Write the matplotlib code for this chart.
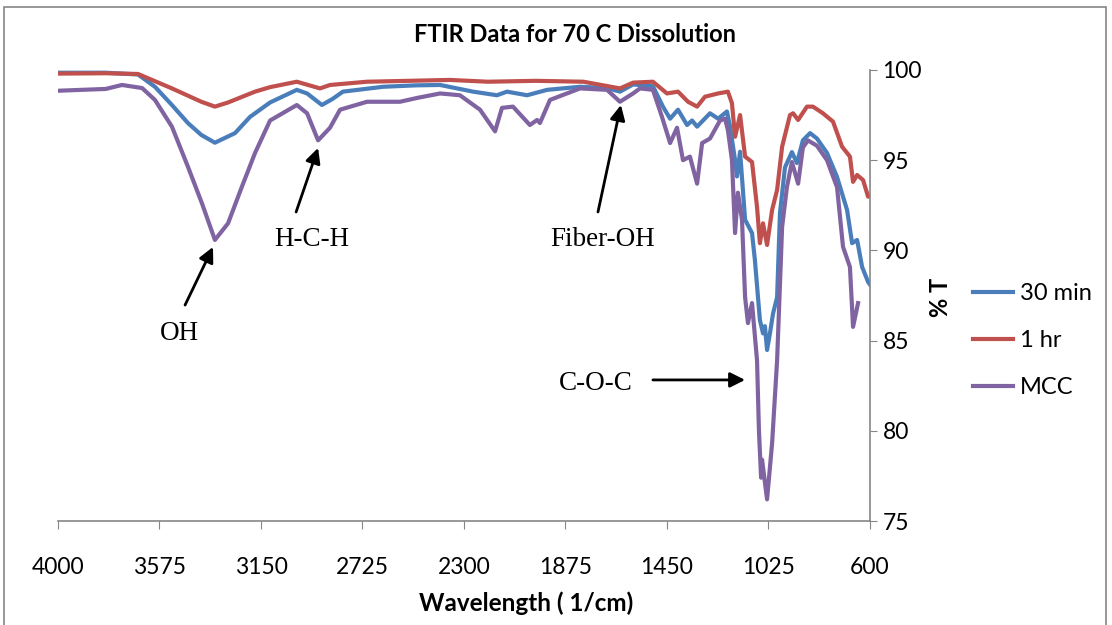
import matplotlib
matplotlib.use("Agg")
import matplotlib.pyplot as plt
from matplotlib.patches import Rectangle

# FTIR spectra (wavenumber 1/cm, %T)
wn_30min = [4000, 3800, 3665, 3594, 3523, 3456, 3400, 3343, 3259, 3196, 3112, 3000,
            2957, 2895, 2850, 2807, 2639, 2500, 2400, 2262, 2162, 2120, 2036, 1952,
            1814, 1701, 1647, 1592, 1509, 1467, 1437, 1404, 1366, 1345, 1324, 1270,
            1236, 1199, 1186, 1165, 1157, 1144, 1123, 1094, 1082, 1061, 1048, 1040,
            1031, 1019, 1006, 989, 977, 956, 927, 906, 881, 851, 822, 780, 738, 696,
            675, 654, 633, 608, 600]
t_30min = [99.85, 99.85, 99.75, 99.07, 98.06, 97.06, 96.4, 95.97, 96.5, 97.4, 98.2, 98.9,
           98.7, 98.06, 98.4, 98.8, 99.07, 99.15, 99.17, 98.8, 98.6, 98.8, 98.6, 98.9,
           99.07, 99.0, 98.8, 99.2, 99.1, 97.97, 97.3, 97.8, 96.95, 97.2, 96.86, 97.6,
           97.3, 97.7, 96.86, 95.0, 94.1, 95.47, 91.7, 90.96, 89.47, 86.14, 85.4, 85.8,
           84.48, 85.4, 86.5, 87.4, 92.07, 94.6, 95.45, 94.84, 96.1, 96.5, 96.2, 95.4,
           94.07, 92.24, 90.4, 90.58, 89.08, 88.25, 88.1]

wn_1hr = [4000, 3800, 3665, 3523, 3400, 3343, 3288, 3175, 3112, 3000, 2903, 2861,
          2706, 2359, 2200, 2000, 1800, 1647, 1592, 1509, 1450, 1404, 1362, 1324,
          1291, 1236, 1195, 1178, 1165, 1144, 1123, 1094, 1073, 1061, 1048, 1031,
          1010, 989, 968, 935, 922, 901, 864, 839, 797, 755, 717, 684, 671, 654,
          629, 608, 600]
t_1hr = [99.8, 99.82, 99.78, 98.98, 98.24, 97.97, 98.2, 98.8, 99.05, 99.35, 98.98, 99.17,
         99.35, 99.45, 99.35, 99.4, 99.35, 98.98, 99.3, 99.35, 98.7, 98.8, 98.24, 97.97,
         98.52, 98.7, 98.8, 98.16, 96.3, 97.5, 95.2, 94.9, 92.4, 90.4, 91.5, 90.3,
         92.24, 93.35, 95.75, 97.5, 97.6, 97.23, 97.97, 97.97, 97.6, 97.14, 95.75, 95.2,
         93.8, 94.18, 93.9, 92.98, 93.0]

wn_mcc = [4000, 3800, 3732, 3648, 3594, 3523, 3456, 3397, 3343, 3288, 3230, 3175,
          3112, 3000, 2957, 2911, 2861, 2819, 2706, 2568, 2497, 2400, 2317, 2233,
          2170, 2141, 2095, 2024, 1994, 1982, 1940, 1814, 1701, 1647, 1592, 1563,
          1509, 1471, 1437, 1408, 1383, 1354, 1324, 1303, 1270, 1228, 1207, 1195,
          1178, 1165, 1153, 1136, 1123, 1111, 1094, 1073, 1065, 1056, 1052, 1031,
          1010, 989, 968, 948, 927, 901, 881, 860, 822, 780, 738, 713, 684, 671, 650]
t_mcc = [98.85, 98.95, 99.17, 99.0, 98.34, 96.86, 94.64, 92.6, 90.58, 91.5, 93.53, 95.4,
         97.2, 98.06, 97.6, 96.1, 96.8, 97.8, 98.24, 98.24, 98.45, 98.7, 98.6, 97.8,
         96.6, 97.9, 97.97, 96.95, 97.23, 97.06, 98.34, 98.98, 98.9, 98.24, 98.7, 98.98,
         98.9, 97.4, 95.95, 96.8, 95.0, 95.2, 93.7, 95.95, 96.2, 97.2, 97.3, 96.67,
         95.0, 90.96, 93.2, 91.7, 87.4, 85.97, 87.08, 83.9, 80.0, 77.4, 78.4, 76.2,
         79.3, 83.9, 91.3, 93.5, 94.9, 93.7, 95.7, 96.1, 95.8, 95.0, 93.5, 90.2, 89.08,
         85.76, 87.08]

series = [("30 min", wn_30min, t_30min, "#4a7ebb"),
          ("1 hr", wn_1hr, t_1hr, "#c0504d"),
          ("MCC", wn_mcc, t_mcc, "#8064a2")]

x_ticks = [4000, 3575, 3150, 2725, 2300, 1875, 1450, 1025, 600]
y_ticks = [75, 80, 85, 90, 95, 100]

# peak labels: (text, text pos, arrow tail, arrow tip)
notes = [("OH", (3493, 85.4), (3468, 86.97), (3351, 90.19)),
         ("H-C-H", (2936, 90.58), (3003, 92.13), (2911, 95.68)),
         ("Fiber-OH", (1718, 90.58), (1739, 92.13), (1643, 98.06)),
         ("C-O-C", (1747, 82.6), (1509, 82.82), (1123, 82.82))]

plt.rcParams['font.family'] = ['Lato', 'DejaVu Sans']

fig = plt.figure(figsize=(11.12, 6.25), dpi=100)
ax = fig.add_axes([58 / 1112, 1 - 521 / 625, 812 / 1112, 451 / 625])

for name, xs, ys, col in series:
    ax.plot(xs, ys, color=col, lw=3, label=name, solid_joinstyle='round')

ax.set_xlim(4000, 600)
ax.set_ylim(75, 100)
ax.set_xticks(x_ticks)
ax.set_yticks(y_ticks)
ax.yaxis.tick_right()
ax.yaxis.set_label_position("right")
for s in ["left", "top"]:
    ax.spines[s].set_visible(False)
for s in ["right", "bottom"]:
    ax.spines[s].set_color("#868686")
    ax.spines[s].set_linewidth(1.2)
ax.tick_params(axis="x", direction="out", length=6, color="#868686", pad=20, labelsize=16.5)
ax.tick_params(axis="y", direction="out", length=5, color="#868686", pad=4, labelsize=16.5)

for txt, tpos, tail, tip in notes:
    ax.text(tpos[0], tpos[1], txt, ha="center", va="center", fontsize=19.5,
            family="Liberation Serif")
    ax.annotate("", xy=tip, xytext=tail,
                arrowprops=dict(arrowstyle="-|>,head_length=0.9,head_width=0.45",
                                color="black", lw=2, shrinkA=0, shrinkB=0))

fig.text(575 / 1112, 1 - 35 / 625, "FTIR Data for 70 C Dissolution", ha="center",
         va="center", fontsize=17, fontweight="bold")
fig.text(526 / 1112, 1 - 603 / 625, "Wavelength ( 1/cm)", ha="center", va="center",
         fontsize=17.5, fontweight="bold")
fig.text(941 / 1112, 1 - 297 / 625, "% T", ha="center", va="center", rotation=90,
         fontsize=17, fontweight="bold")

fig.legend(loc="upper left", bbox_to_anchor=(973 / 1112, 1 - 283 / 625), frameon=False,
           fontsize=17, handlelength=1.7, handletextpad=0.3, labelspacing=1.1,
           borderpad=0, borderaxespad=0)

fig.patches.append(Rectangle((4 / 1112, -0.05), 1102 / 1112, 1.05 - 7 / 625,
                             transform=fig.transFigure, fill=False,
                             edgecolor="#868686", lw=1.2))

fig.savefig("out.png", dpi=100)
